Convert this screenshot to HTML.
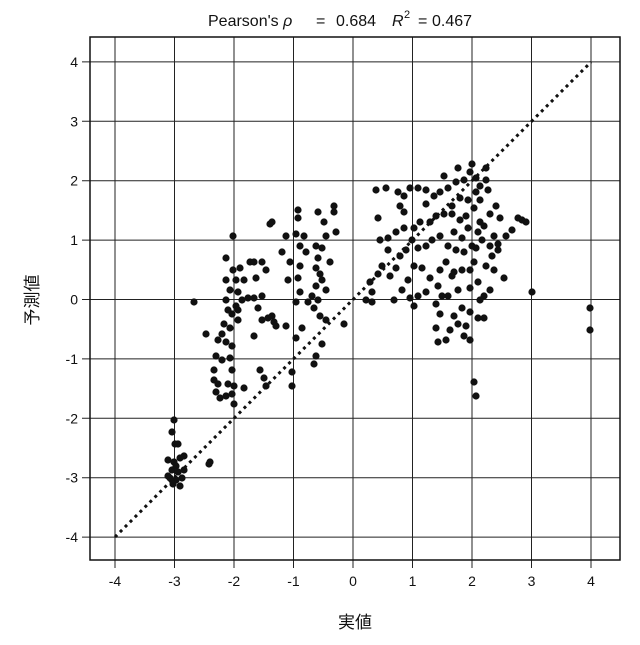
<!DOCTYPE html>
<html><head><meta charset="utf-8"><style>
body{margin:0;background:#fff}
svg text{font-family:"Liberation Sans","Noto Sans CJK JP",sans-serif;fill:#111}
</style></head><body>
<svg id="s" width="640" height="640" xmlns="http://www.w3.org/2000/svg">
<rect width="640" height="640" fill="#fff"/>
<g id="grid" stroke="#222" stroke-width="1"></g>
<rect x="90" y="37" width="530" height="523" fill="none" stroke="#111" stroke-width="1.5"/>
<line x1="115" y1="537" x2="591" y2="62" stroke="#111" stroke-width="3" stroke-dasharray="3,4"/>
<g id="pts" fill="#111"></g>
<g id="lab" font-size="14"></g>
<text x="208" y="26" font-size="16">Pearson's <tspan font-style="italic">ρ</tspan></text>
<text x="316" y="26" font-size="16">=</text>
<text x="336" y="26" font-size="16">0.684</text>
<text x="392" y="26" font-size="16" font-style="italic">R</text>
<text x="404" y="18" font-size="11">2</text>
<text x="418" y="26" font-size="16">=</text>
<text x="432" y="26" font-size="16">0.467</text>
<text x="355" y="628" font-size="17" text-anchor="middle">実値</text>
<text transform="translate(38,300) rotate(-90)" font-size="17" text-anchor="middle">予測値</text>
</svg>
<script>
var g=document.getElementById('grid'),l=document.getElementById('lab'),p=document.getElementById('pts'),NS='http://www.w3.org/2000/svg';
function el(t,a,par){var e=document.createElementNS(NS,t);for(var k in a)e.setAttribute(k,a[k]);par.appendChild(e);return e;}
for(var i=-4;i<=4;i++){var x=353+i*59.5,y=299.5-i*59.4;
el('line',{x1:x,y1:37,x2:x,y2:568},g);el('line',{x1:82,y1:y,x2:620,y2:y},g);
var t=el('text',{x:x,y:586,'text-anchor':'middle'},l);t.textContent=i;
var u=el('text',{x:78,y:y+5,'text-anchor':'end'},l);u.textContent=i;}
var d=[174,420,172,432,175,444,178,444,168,460,174,462,180,458,184,456,168,476,172,470,176,466,178,472,182,478,176,480,180,486,170,478,173,484,184,470,210,462,209,464,
233,236,226,258,233,270,240,268,250,262,262,262,226,280,236,280,244,280,256,278,266,270,230,290,238,292,248,298,254,298,262,296,226,300,242,300,232,314,238,320,224,324,230,328,258,308,262,320,268,318,222,334,218,340,226,342,232,346,216,356,222,360,230,358,232,370,214,380,218,384,228,384,234,386,216,392,220,398,226,396,232,394,234,404,244,388,260,370,264,378,266,386,228,310,236,306,194,302,206,334,214,370,270,224,272,222,272,316,274,322,276,326,254,336,254,262,238,310,
298,210,298,218,296,234,300,246,304,236,318,212,324,222,326,236,322,248,318,258,316,268,320,274,330,262,322,280,316,286,326,290,290,262,298,278,300,292,288,280,296,302,308,302,312,296,318,300,314,308,320,316,286,326,302,328,296,338,326,320,322,344,316,356,314,364,300,266,306,252,334,212,334,206,336,232,344,324,292,372,292,386,282,252,286,236,316,246,
376,190,386,188,398,192,400,206,404,212,410,188,418,188,426,204,434,196,440,192,448,188,456,182,464,180,476,178,486,168,470,172,476,192,468,200,460,198,452,206,444,214,436,216,430,222,420,222,414,228,404,228,396,232,388,238,380,240,378,218,388,250,382,266,378,274,370,282,366,300,372,302,390,276,396,268,400,256,406,250,412,240,418,248,426,246,432,240,440,236,448,246,456,250,464,252,472,246,478,232,484,226,490,214,496,206,500,218,506,236,512,230,518,218,522,220,526,222,498,250,492,256,486,266,474,262,462,270,454,272,446,262,440,270,430,278,422,268,414,266,408,280,402,290,418,296,426,292,438,286,448,296,458,290,470,288,478,282,484,296,490,290,494,270,504,278,462,308,470,312,478,318,484,318,466,326,458,324,450,330,440,314,436,328,438,342,446,340,454,316,464,336,470,340,436,304,414,306,410,298,394,300,372,292,460,220,454,232,462,238,466,216,474,208,480,222,488,190,494,236,474,382,476,396,532,292,590,308,590,330,472,164,480,186,486,180,458,168,444,176,426,190,452,214,468,228,476,248,482,240,404,196,452,276,470,270,480,200,490,246,498,244,480,300,442,296];
for(var j=0;j<d.length;j+=2)el('circle',{cx:d[j],cy:d[j+1],r:3.6},p);
</script>
</body></html>
